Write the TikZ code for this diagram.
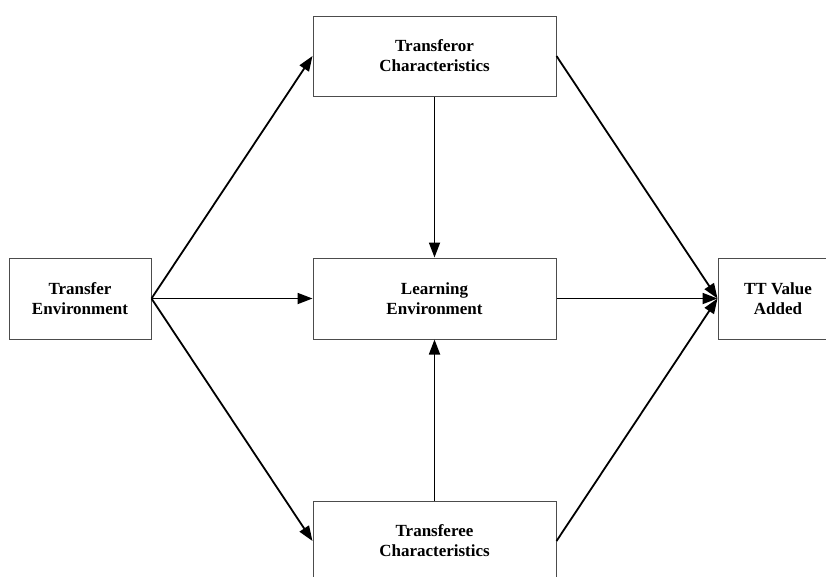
\documentclass[tikz,border=0pt]{standalone}
\usepackage{fontspec}
\setmainfont{Liberation Serif}
\usetikzlibrary{arrows.meta}
\begin{document}
\begin{tikzpicture}[x=1pt,y=-1pt,
  blockbox/.style={draw=black!70, line width=1pt, rectangle, inner sep=0pt,
    align=center, font=\fontsize{17}{20}\selectfont\bfseries},
  link/.style={line width=1.8pt, -{Triangle[length=15pt,width=11pt]}}]
\useasboundingbox (0,0) rectangle (826,576);
\clip (0,0) rectangle (826,576);
% blocks
\node[blockbox, minimum width=243pt, minimum height=80pt] (tor) at (434.5,56) {Transferor\\Characteristics};
\node[blockbox, minimum width=243pt, minimum height=81pt] (learn) at (434.5,298.5) {Learning\\Environment};
\node[blockbox, minimum width=243pt, minimum height=80pt] (tee) at (434.5,541) {Transferee\\Characteristics};
\node[blockbox, minimum width=142pt, minimum height=81pt] (env) at (80,298.5) {Transfer\\Environment};
\node[blockbox, minimum width=120pt, minimum height=81pt] (tt) at (778,298.5) {TT Value\\Added};
% connectors
\draw[link] (env.east) -- (tor.west);
\draw[link] (env.east) -- (learn.west);
\draw[link] (env.east) -- (tee.west);
\draw[link] (tor.south) -- (learn.north);
\draw[link] (tee.north) -- (learn.south);
\draw[link] (tor.east) -- (tt.west);
\draw[link] (learn.east) -- (tt.west);
\draw[link] (tee.east) -- (tt.west);
\end{tikzpicture}
\end{document}
